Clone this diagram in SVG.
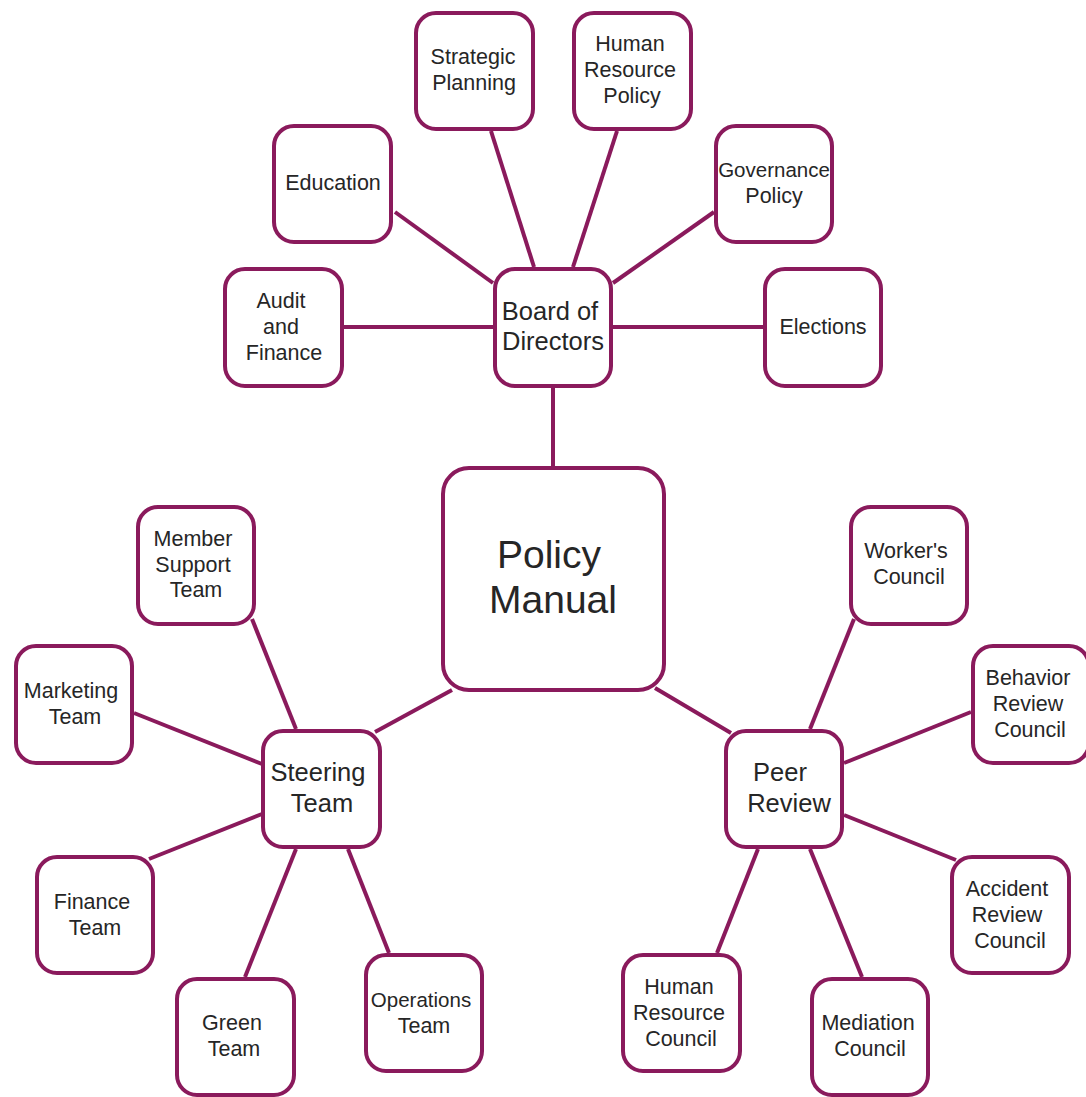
<svg xmlns="http://www.w3.org/2000/svg" width="1086" height="1097" viewBox="0 0 1086 1097">
<style>
rect.n{fill:#fff;stroke:#8a1a5c;stroke-width:4}
#connectors line{stroke:#8a1a5c;stroke-width:4;fill:none}
text{font-family:"Liberation Sans",Arial,sans-serif;fill:#262626;text-anchor:middle}
.s{font-size:21.5px}
.m{font-size:25.5px}
.l{font-size:39px}
</style>
<rect width="1086" height="1097" fill="#fff"/>
<g id="connectors">
<line x1="553" y1="388" x2="553" y2="466"/>
<line x1="395" y1="212" x2="493" y2="283"/>
<line x1="491" y1="131" x2="534" y2="267"/>
<line x1="617" y1="131" x2="573" y2="267"/>
<line x1="714" y1="212" x2="613" y2="283"/>
<line x1="344" y1="327" x2="493" y2="327"/>
<line x1="613" y1="327" x2="763" y2="327"/>
<line x1="452" y1="690" x2="375" y2="732"/>
<line x1="655" y1="688" x2="731" y2="733"/>
<line x1="252" y1="619" x2="296" y2="729"/>
<line x1="134" y1="713" x2="262" y2="764"/>
<line x1="149" y1="859" x2="262" y2="814"/>
<line x1="296" y1="849" x2="245" y2="977"/>
<line x1="348" y1="849" x2="389" y2="953"/>
<line x1="854" y1="619" x2="810" y2="729"/>
<line x1="971" y1="712" x2="844" y2="763"/>
<line x1="956" y1="860" x2="844" y2="815"/>
<line x1="758" y1="849" x2="717" y2="953"/>
<line x1="810" y1="849" x2="862" y2="977"/>
</g>
<g id="strategic-planning"><rect class="n" x="416" y="13" width="117" height="116" rx="20"/><text class="s" x="473" y="64">Strategic</text><text class="s" x="474" y="90">Planning</text></g>
<g id="hr-policy"><rect class="n" x="574" y="13" width="117" height="116" rx="20"/><text class="s" x="630" y="51">Human</text><text class="s" x="630" y="77">Resource</text><text class="s" x="632" y="103">Policy</text></g>
<g id="education"><rect class="n" x="274" y="126" width="117" height="116" rx="20"/><text class="s" x="333" y="190">Education</text></g>
<g id="governance-policy"><rect class="n" x="716" y="126" width="116" height="116" rx="20"/><text class="s" x="774" y="177" style="font-size:20.5px">Governance</text><text class="s" x="774" y="203">Policy</text></g>
<g id="audit-finance"><rect class="n" x="225" y="269" width="117" height="117" rx="20"/><text class="s" x="281" y="308">Audit</text><text class="s" x="281" y="334">and</text><text class="s" x="284" y="360">Finance</text></g>
<g id="board"><rect class="n" x="495" y="269" width="116" height="117" rx="20"/><text class="m" x="550" y="320">Board of</text><text class="m" x="553" y="350">Directors</text></g>
<g id="elections"><rect class="n" x="765" y="269" width="116" height="117" rx="20"/><text class="s" x="823" y="334">Elections</text></g>
<g id="policy-manual"><rect class="n" x="443" y="468" width="221" height="222" rx="26"/><text class="l" x="549" y="568">Policy</text><text class="l" x="553" y="613">Manual</text></g>
<g id="member-support"><rect class="n" x="138" y="507" width="116" height="117" rx="20"/><text class="s" x="193" y="546">Member</text><text class="s" x="193" y="572">Support</text><text class="s" x="196" y="597">Team</text></g>
<g id="workers-council"><rect class="n" x="851" y="507" width="116" height="117" rx="20"/><text class="s" x="906" y="558">Worker's</text><text class="s" x="909" y="584">Council</text></g>
<g id="marketing"><rect class="n" x="16" y="646" width="116" height="117" rx="20"/><text class="s" x="71" y="698">Marketing</text><text class="s" x="75" y="724">Team</text></g>
<g id="behavior-review"><rect class="n" x="973" y="646" width="116" height="117" rx="20"/><text class="s" x="1028" y="685">Behavior</text><text class="s" x="1028" y="711">Review</text><text class="s" x="1030" y="737">Council</text></g>
<g id="steering"><rect class="n" x="263" y="731" width="117" height="116" rx="20"/><text class="m" x="318" y="781">Steering</text><text class="m" x="322" y="812">Team</text></g>
<g id="peer-review"><rect class="n" x="726" y="731" width="116" height="116" rx="20"/><text class="m" x="780" y="781">Peer</text><text class="m" x="789" y="812">Review</text></g>
<g id="finance-team"><rect class="n" x="37" y="857" width="116" height="116" rx="20"/><text class="s" x="92" y="909">Finance</text><text class="s" x="95" y="935">Team</text></g>
<g id="accident-review"><rect class="n" x="952" y="857" width="117" height="116" rx="20"/><text class="s" x="1007" y="896">Accident</text><text class="s" x="1007" y="922">Review</text><text class="s" x="1010" y="948">Council</text></g>
<g id="green-team"><rect class="n" x="177" y="979" width="117" height="116" rx="20"/><text class="s" x="232" y="1030">Green</text><text class="s" x="234" y="1056">Team</text></g>
<g id="operations-team"><rect class="n" x="366" y="955" width="116" height="116" rx="20"/><text class="s" x="421" y="1007" style="font-size:20.5px">Operations</text><text class="s" x="424" y="1033">Team</text></g>
<g id="hr-council"><rect class="n" x="623" y="955" width="117" height="116" rx="20"/><text class="s" x="679" y="994">Human</text><text class="s" x="679" y="1020">Resource</text><text class="s" x="681" y="1046">Council</text></g>
<g id="mediation-council"><rect class="n" x="812" y="979" width="116" height="116" rx="20"/><text class="s" x="868" y="1030">Mediation</text><text class="s" x="870" y="1056">Council</text></g>
</svg>
